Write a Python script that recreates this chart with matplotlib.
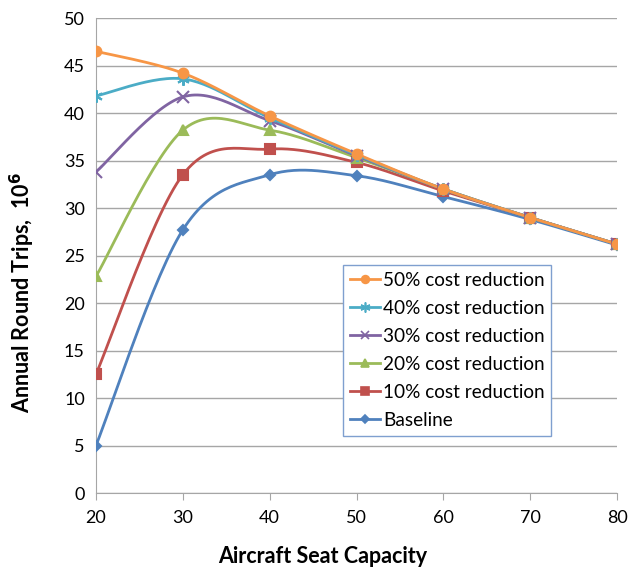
import numpy as np
import matplotlib
matplotlib.use('Agg')
import matplotlib.pyplot as plt

plt.rcParams['font.family'] = ['Lato', 'DejaVu Sans']

seats = [20, 30, 40, 50, 60, 70, 80]
baseline = [5.0, 27.7, 33.5, 33.4, 31.2, 28.8, 26.1]
red10 = [12.5, 33.5, 36.2, 34.8, 31.8, 29.0, 26.2]
red20 = [22.8, 38.2, 38.2, 35.3, 32.0, 29.0, 26.2]
red30 = [33.8, 41.7, 39.2, 35.5, 32.0, 29.0, 26.2]
red40 = [41.8, 43.6, 39.5, 35.6, 32.0, 29.0, 26.2]
red50 = [46.5, 44.2, 39.7, 35.7, 32.0, 29.0, 26.2]

labels = ['50% cost reduction', '40% cost reduction', '30% cost reduction',
          '20% cost reduction', '10% cost reduction', 'Baseline']
series = [red50, red40, red30, red20, red10, baseline]
colors = ['#F79646', '#4BACC6', '#8064A2', '#9BBB59', '#C0504D', '#4F81BD']
markers = ['o', (6, 2, 0), 'x', '^', 's', 'D']
msizes = [7, 9, 8, 7, 7, 5]


def smooth(x, y, n=30):
    # excel-like bezier smoothing between the points
    x = np.asarray(x, float)
    y = np.asarray(y, float)
    px = np.concatenate([[x[0]], x, [x[-1]]])
    py = np.concatenate([[y[0]], y, [y[-1]]])
    t = np.linspace(0, 1, n)
    xs, ys = [], []
    for i in range(1, len(px) - 2):
        p0 = np.array([px[i], py[i]])
        p3 = np.array([px[i + 1], py[i + 1]])
        p1 = p0 + (np.array([px[i + 1], py[i + 1]]) - np.array([px[i - 1], py[i - 1]])) / 6
        p2 = p3 - (np.array([px[i + 2], py[i + 2]]) - np.array([px[i], py[i]])) / 6
        b = ((1 - t) ** 3)[:, None] * p0 + (3 * (1 - t) ** 2 * t)[:, None] * p1 \
            + (3 * (1 - t) * t ** 2)[:, None] * p2 + (t ** 3)[:, None] * p3
        xs.extend(b[:, 0])
        ys.extend(b[:, 1])
    return xs, ys


fig = plt.figure(figsize=(6.29, 5.67), dpi=100)
ax = fig.add_axes([0.1526, 0.1305, 0.8284, 0.8377])

for vals, lab, c, m, ms in zip(series[::-1], labels[::-1], colors[::-1], markers[::-1], msizes[::-1]):
    sx, sy = smooth(seats, vals)
    ax.plot(sx, sy, color=c, lw=2.0, zorder=3)
    ax.plot(seats, vals, ls='none', marker=m, color=c, ms=ms, mew=1.5, zorder=4)

handles = []
for lab, c, m, ms in zip(labels, colors, markers, msizes):
    h, = ax.plot([], [], color=c, lw=2.0, marker=m, ms=ms * 0.8, mew=1.2, label=lab)
    handles.append(h)

leg = ax.legend(handles=handles, loc='upper left', bbox_to_anchor=(0.474, 0.48),
                frameon=True, fancybox=False, fontsize=13.7, handlelength=1.6,
                handletextpad=0.15, borderpad=0.35, labelspacing=0.58,
                borderaxespad=0)
leg.get_frame().set_edgecolor('#7F9FCF')
leg.get_frame().set_linewidth(1.0)
leg.get_frame().set_alpha(1)
leg.set_zorder(5)

ax.set_xlim(20, 80)
ax.set_ylim(0, 50)
ax.set_xticks(seats)
ax.set_yticks(range(0, 51, 5))
ax.yaxis.grid(True, color='#A6A6A6', lw=1.0)
ax.set_axisbelow(True)
for s in ['top', 'right']:
    ax.spines[s].set_visible(False)
for s in ['left', 'bottom']:
    ax.spines[s].set_color('#A6A6A6')
ax.tick_params(axis='y', length=0, labelsize=13, pad=8, colors='#000000')
ax.tick_params(axis='x', length=5, color='#A6A6A6', labelsize=13, pad=7)

ax.set_xlabel('Aircraft Seat Capacity', fontsize=15.5, fontweight='bold')
ax.xaxis.set_label_coords(0.436, -0.112)
ax.set_ylabel('Annual Round Trips,  10$^\\mathbf{6}$', fontsize=15.5, fontweight='bold')
ax.yaxis.set_label_coords(-0.113, 0.423)

fig.savefig('out.png', dpi=100)
